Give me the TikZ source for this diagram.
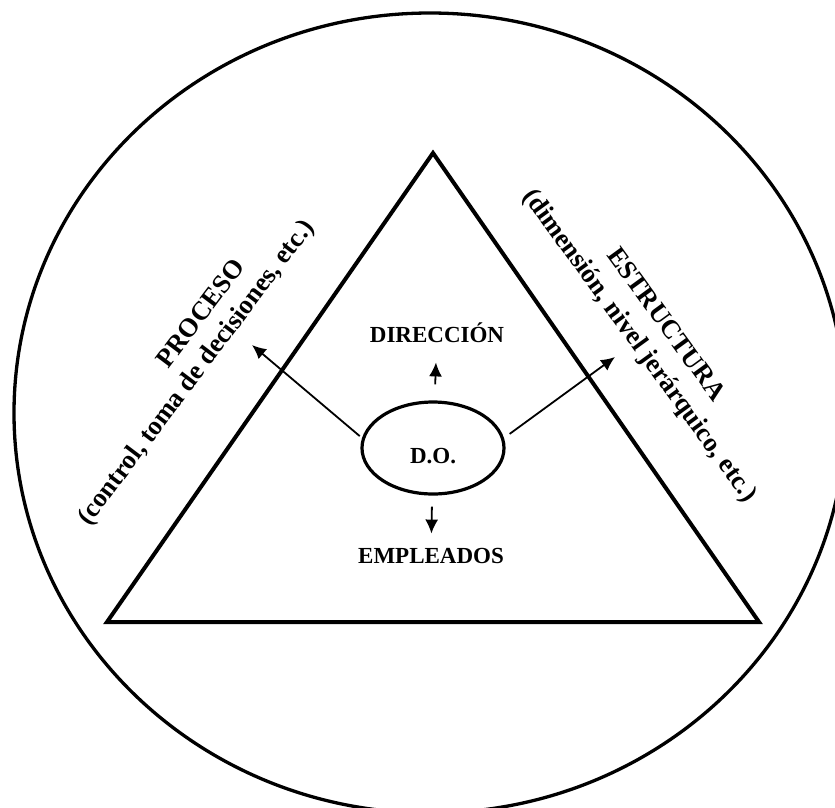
\documentclass[tikz,border=0pt]{standalone}
\usepackage{fontspec}
\setmainfont{Liberation Serif}
\usepackage{tikz}
\usetikzlibrary{shapes.geometric,arrows.meta}
\newcommand{\midfont}{\fontsize{23}{27}\selectfont\bfseries}
\newcommand{\sidefont}{\fontsize{26.5}{31}\selectfont\bfseries}

\begin{document}
\begin{tikzpicture}[x=1pt,y=-1pt,
  lbl/.style={font=\midfont,inner sep=0pt},
  side/.style={font=\sidefont,inner sep=0pt},
  arr/.style={-{Latex[length=14pt,width=13pt]},line width=1.8pt}]
\useasboundingbox (0,0) rectangle (835,807);
\clip (0,0) rectangle (835,807);
\draw[line width=3.3pt] (430,413) ellipse [x radius=416pt,y radius=400pt];
\coordinate (apex) at (433,153);
\coordinate (bl) at (107,622);
\coordinate (br) at (759,622);
\draw[line width=4pt,line join=miter] (apex)--(bl)--(br)--cycle;
\node[lbl,draw,line width=3.2pt,ellipse,minimum width=142pt,minimum height=92pt,text height=31pt,text depth=0pt] (do) at (433,448) {D.O.};
\node[lbl,anchor=base] (dir) at (437,342) {DIRECCIÓN};
\node[lbl,anchor=base] (emp) at (431,563) {EMPLEADOS};
\node[side,rotate=53] (proc) at (200,313) {PROCESO};
\node[side,rotate=53] (procsub) at (197,373) {(control, toma de decisiones, etc.)};
\node[side,rotate=-54] (estr) at (667,324) {ESTRUCTURA};
\node[side,rotate=-54] (estrsub) at (639,346) {(dimensión, nivel jerárquico, etc.)};
\coordinate (ptip) at (252,345);
\coordinate (etip) at (615,357);
\draw[arr,shorten <=16pt,shorten >=20pt] (do)--(dir);
\draw[arr,shorten <=11pt,shorten >=14pt] (do)--(emp);
\draw[arr,shorten <=3pt] (do.172)--(ptip);
\draw[arr,shorten <=7pt] (do.8)--(etip);
\end{tikzpicture}
\end{document}
